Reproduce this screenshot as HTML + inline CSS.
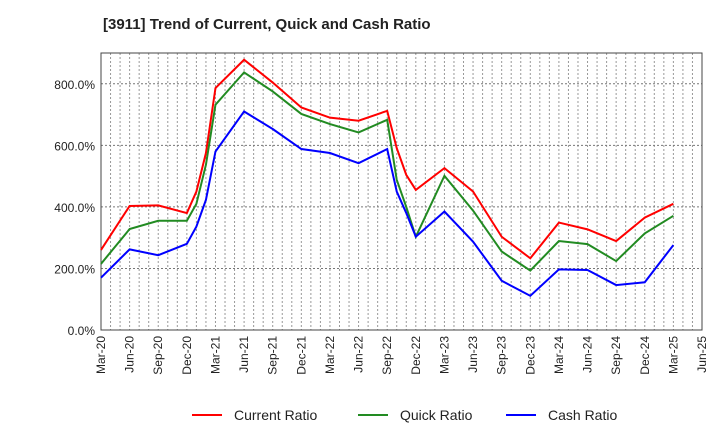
<!DOCTYPE html>
<html><head><meta charset="utf-8"><style>
body{margin:0;background:#fff;font-family:"Liberation Sans",sans-serif}
</style></head><body>
<svg id="chart" width="720" height="440" xmlns="http://www.w3.org/2000/svg" font-family="Liberation Sans, sans-serif">
<text x="103" y="29" font-size="15" font-weight="bold" fill="#222">[3911]  Trend of Current, Quick and Cash Ratio</text>
<g id="grid"></g><g id="axes"></g><g id="series"></g>
<g font-size="14" fill="#222">
<line x1="192" y1="415" x2="222" y2="415" stroke="#f00" stroke-width="2"/><text x="234" y="420">Current Ratio</text>
<line x1="358" y1="415" x2="388" y2="415" stroke="#228b22" stroke-width="2"/><text x="400" y="420">Quick Ratio</text>
<line x1="506" y1="415" x2="536" y2="415" stroke="#00f" stroke-width="2"/><text x="548" y="420">Cash Ratio</text>
</g>
</svg>
<script>
const months=[0,3,6,9,10,11,12,15,18,21,24,27,30,31,32,33,36,39,42,45,48,51,54,57,60];
const currentRatio=[260,403,405,380,450,575,786,878,804,723,690,680,712,591,504,455,526,450,303,233,349,327,289,365,410];
const quickRatio=[215,328,355,355,410,537,732,837,775,702,669,642,683,488,400,303,501,388,255,193,289,279,224,314,371];
const cashRatio=[170,262,243,280,336,423,580,710,653,588,575,542,588,450,380,303,385,287,160,111,197,195,146,155,276];
const yTicks=[0,200,400,600,800];
const xLabels=["Mar-20","Jun-20","Sep-20","Dec-20","Mar-21","Jun-21","Sep-21","Dec-21","Mar-22","Jun-22","Sep-22","Dec-22","Mar-23","Jun-23","Sep-23","Dec-23","Mar-24","Jun-24","Sep-24","Dec-24","Mar-25","Jun-25"];
const L=101,R=702,T=53,B=330,NM=63,YMAX=900;
const xs=m=>L+(R-L)*m/NM, ys=v=>B-(B-T)*v/YMAX;
const NS="http://www.w3.org/2000/svg";
function mk(tag,attrs,parent){const e=document.createElementNS(NS,tag);for(const k in attrs)e.setAttribute(k,attrs[k]);parent.appendChild(e);return e;}
const grid=document.getElementById('grid'),axes=document.getElementById('axes'),ser=document.getElementById('series');
for(let m=1;m<NM;m++){const l=mk('line',{x1:xs(m),x2:xs(m),y1:T,y2:B,stroke:'#999','stroke-dasharray':'2,2','stroke-width':1},grid);
}
yTicks.forEach(v=>{if(v>0){const l=mk('line',{x1:L,x2:R,y1:ys(v),y2:ys(v),stroke:'#777','stroke-dasharray':'2,2'},grid);
}
const t=mk('text',{x:L-6,y:ys(v)+5,'text-anchor':'end','font-size':12,fill:'#222'},axes);t.textContent=v.toFixed(1)+'%';
});
xLabels.forEach((s,i)=>{const x=xs(i*3);const t=mk('text',{x:0,y:0,transform:`translate(${x+4},${B+6}) rotate(-90)`,'text-anchor':'end','font-size':12,fill:'#222'},axes);t.textContent=s;
});
const fr=mk('rect',{x:L,y:T,width:R-L,height:B-T,fill:'none',stroke:'#444','stroke-width':1},axes);

[[currentRatio,'#f00','current-ratio-line'],[quickRatio,'#228b22','quick-ratio-line'],[cashRatio,'#00f','cash-ratio-line']].forEach(([d,c,n])=>{
const p=mk('polyline',{points:d.map((v,i)=>xs(months[i])+','+ys(v)).join(' '),fill:'none',stroke:c,'stroke-width':2},ser);
});
</script>
</body></html>
